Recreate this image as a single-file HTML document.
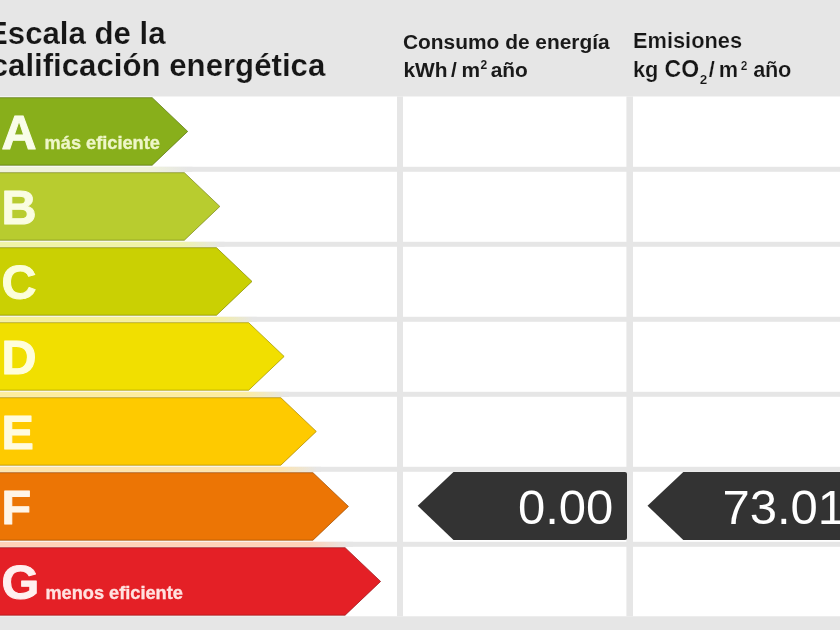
<!DOCTYPE html>
<html lang="es">
<head>
<meta charset="utf-8">
<title>Escala de la calificación energética</title>
<style>
html,body{margin:0;padding:0;}
body{width:840px;height:630px;overflow:hidden;background:#e6e6e6;font-family:"Liberation Sans",sans-serif;}
svg{display:block;position:absolute;left:-10px;top:-10px;filter:blur(0.5px);}
text{font-family:"Liberation Sans",sans-serif;}
.title{font-size:31.2px;font-weight:bold;fill:#161616;stroke:#e6e6e6;stroke-width:0.2px;}
.hd{font-size:20.9px;font-weight:bold;fill:#1a1a1a;}
.hd2{font-size:21.8px;font-weight:bold;fill:#161616;stroke:#e6e6e6;stroke-width:0.2px;}
.big{font-size:48.5px;font-weight:bold;stroke-width:1px;stroke-linejoin:round;}
.sm{font-size:18.2px;font-weight:bold;}
.val{font-size:49px;fill:#ffffff;}
</style>
</head>
<body>
<svg width="860" height="650" viewBox="-10 -10 860 650">
<rect x="-10" y="-10" width="860" height="650" fill="#e6e6e6"/>
<!-- white table body -->
<rect x="-10" y="96.5" width="860" height="519.8" fill="#ffffff"/>
<!-- horizontal separators -->
<g fill="#e6e6e6">
<rect x="-10" y="166.8" width="860" height="5"/>
<rect x="-10" y="241.8" width="860" height="5"/>
<rect x="-10" y="316.8" width="860" height="5"/>
<rect x="-10" y="391.8" width="860" height="5"/>
<rect x="-10" y="466.8" width="860" height="5"/>
<rect x="-10" y="541.8" width="860" height="5"/>
<rect x="397" y="96.5" width="6" height="519.8"/>
<rect x="626.4" y="96.5" width="6.6" height="519.8"/>
</g>
<!-- arrows -->
<defs><linearGradient id="g0" gradientUnits="userSpaceOnUse" x1="148.4" y1="0" x2="188.4" y2="0"><stop offset="0" stop-color="#f0f3da"/><stop offset="1" stop-color="#e6e6e6"/></linearGradient><linearGradient id="g1" gradientUnits="userSpaceOnUse" x1="180.6" y1="0" x2="220.6" y2="0"><stop offset="0" stop-color="#f0f4a8"/><stop offset="1" stop-color="#e6e6e6"/></linearGradient><linearGradient id="g2" gradientUnits="userSpaceOnUse" x1="212.7" y1="0" x2="252.7" y2="0"><stop offset="0" stop-color="#f6f098"/><stop offset="1" stop-color="#e6e6e6"/></linearGradient><linearGradient id="g3" gradientUnits="userSpaceOnUse" x1="244.9" y1="0" x2="284.9" y2="0"><stop offset="0" stop-color="#fdeda0"/><stop offset="1" stop-color="#e6e6e6"/></linearGradient><linearGradient id="g4" gradientUnits="userSpaceOnUse" x1="277.0" y1="0" x2="317.0" y2="0"><stop offset="0" stop-color="#ffe4aa"/><stop offset="1" stop-color="#e6e6e6"/></linearGradient><linearGradient id="g5" gradientUnits="userSpaceOnUse" x1="309.1" y1="0" x2="349.1" y2="0"><stop offset="0" stop-color="#ffd2b8"/><stop offset="1" stop-color="#e6e6e6"/></linearGradient></defs>
<rect x="-10" y="166.8" width="202.4" height="5" fill="url(#g0)"/>
<rect x="-10" y="241.8" width="234.6" height="5" fill="url(#g1)"/>
<rect x="-10" y="316.8" width="266.7" height="5" fill="url(#g2)"/>
<rect x="-10" y="391.8" width="298.9" height="5" fill="url(#g3)"/>
<rect x="-10" y="466.8" width="331.0" height="5" fill="url(#g4)"/>
<rect x="-10" y="541.8" width="363.1" height="5" fill="url(#g5)"/>
<polygon points="-12,97.70 152.20,97.70 187.70,131.45 152.20,165.20 -12,165.20" fill="#88af1b" stroke="#5c7712" stroke-opacity="0.75" stroke-width="1"/>
<polygon points="-12,172.70 184.35,172.70 219.85,206.45 184.35,240.20 -12,240.20" fill="#b8cc2f" stroke="#7d8a1f" stroke-opacity="0.75" stroke-width="1"/>
<polygon points="-12,247.70 216.50,247.70 252.00,281.45 216.50,315.20 -12,315.20" fill="#cad003" stroke="#898d02" stroke-opacity="0.75" stroke-width="1"/>
<polygon points="-12,322.70 248.65,322.70 284.15,356.45 248.65,390.20 -12,390.20" fill="#f1df00" stroke="#a39700" stroke-opacity="0.75" stroke-width="1"/>
<polygon points="-12,397.70 280.80,397.70 316.30,431.45 280.80,465.20 -12,465.20" fill="#feca00" stroke="#ac8900" stroke-opacity="0.75" stroke-width="1"/>
<polygon points="-12,472.70 312.95,472.70 348.45,506.45 312.95,540.20 -12,540.20" fill="#ec7505" stroke="#a04f03" stroke-opacity="0.75" stroke-width="1"/>
<polygon points="-12,547.70 345.10,547.70 380.60,581.45 345.10,615.20 -12,615.20" fill="#e42026" stroke="#9b1519" stroke-opacity="0.75" stroke-width="1"/>
<!-- markers -->
<path d="M417.7 505.8 L453.5 472 H625 Q627 472 627 474 V538 Q627 540 625 540 H453.5 Z" fill="#333333"/>
<path d="M647.5 505.8 L683.3 472 H860 V540 H683.3 Z" fill="#333333"/>
<text class="val" x="517.9" y="524.2">0.00</text>
<text class="val" x="722.4" y="524.2">73.01</text>
<!-- letters -->
<text class="big" x="1.5" y="149.0" fill="#f9fde9" stroke="#f9fde9">A</text>
<text class="big" x="1.5" y="224.0" fill="#fafde2" stroke="#fafde2">B</text>
<text class="big" x="1.5" y="299.0" fill="#fcfedb" stroke="#fcfedb">C</text>
<text class="big" x="1.5" y="374.0" fill="#fffedb" stroke="#fffedb">D</text>
<text class="big" x="1.5" y="449.0" fill="#fffbdf" stroke="#fffbdf">E</text>
<text class="big" x="1.5" y="524.0" fill="#fff5e8" stroke="#fff5e8">F</text>
<text class="big" x="1.5" y="599.0" fill="#fff0ef" stroke="#fff0ef">G</text>
<text class="sm" x="44.6" y="149.2" fill="#eef6c8" stroke="#eef6c8" stroke-width="0.35">más eficiente</text>
<text class="sm" x="45.4" y="599" fill="#ffe2e0" stroke="#ffe2e0" stroke-width="0.35">menos eficiente</text>
<!-- titles -->
<text class="title" x="-13" y="43.5">Escala de la</text>
<text class="title" x="-9.3" y="76.4">calificación energética</text>
<text class="hd" x="403" y="49.4">Consumo de energía</text>
<text class="hd" x="403.5" y="76.6">kWh<tspan dx="3.5">/</tspan><tspan dx="4.5">m</tspan><tspan font-size="12" dy="-7.5" dx="0.5">2</tspan><tspan dy="7.5" dx="3.5">año</tspan></text>
<text class="hd2" x="633" y="48.3">Emisiones</text>
<text class="hd2" x="633" y="77.2">kg <tspan font-size="23" letter-spacing="0.2">CO</tspan><tspan font-size="13.5" dy="7" dx="0.3">2</tspan><tspan dy="-7" dx="1.5">/</tspan><tspan dx="4">m</tspan><tspan font-size="12" dy="-7.5" dx="2.5">2</tspan><tspan dy="7.5" dx="6" letter-spacing="-0.4">año</tspan></text>
</svg>
</body>
</html>
